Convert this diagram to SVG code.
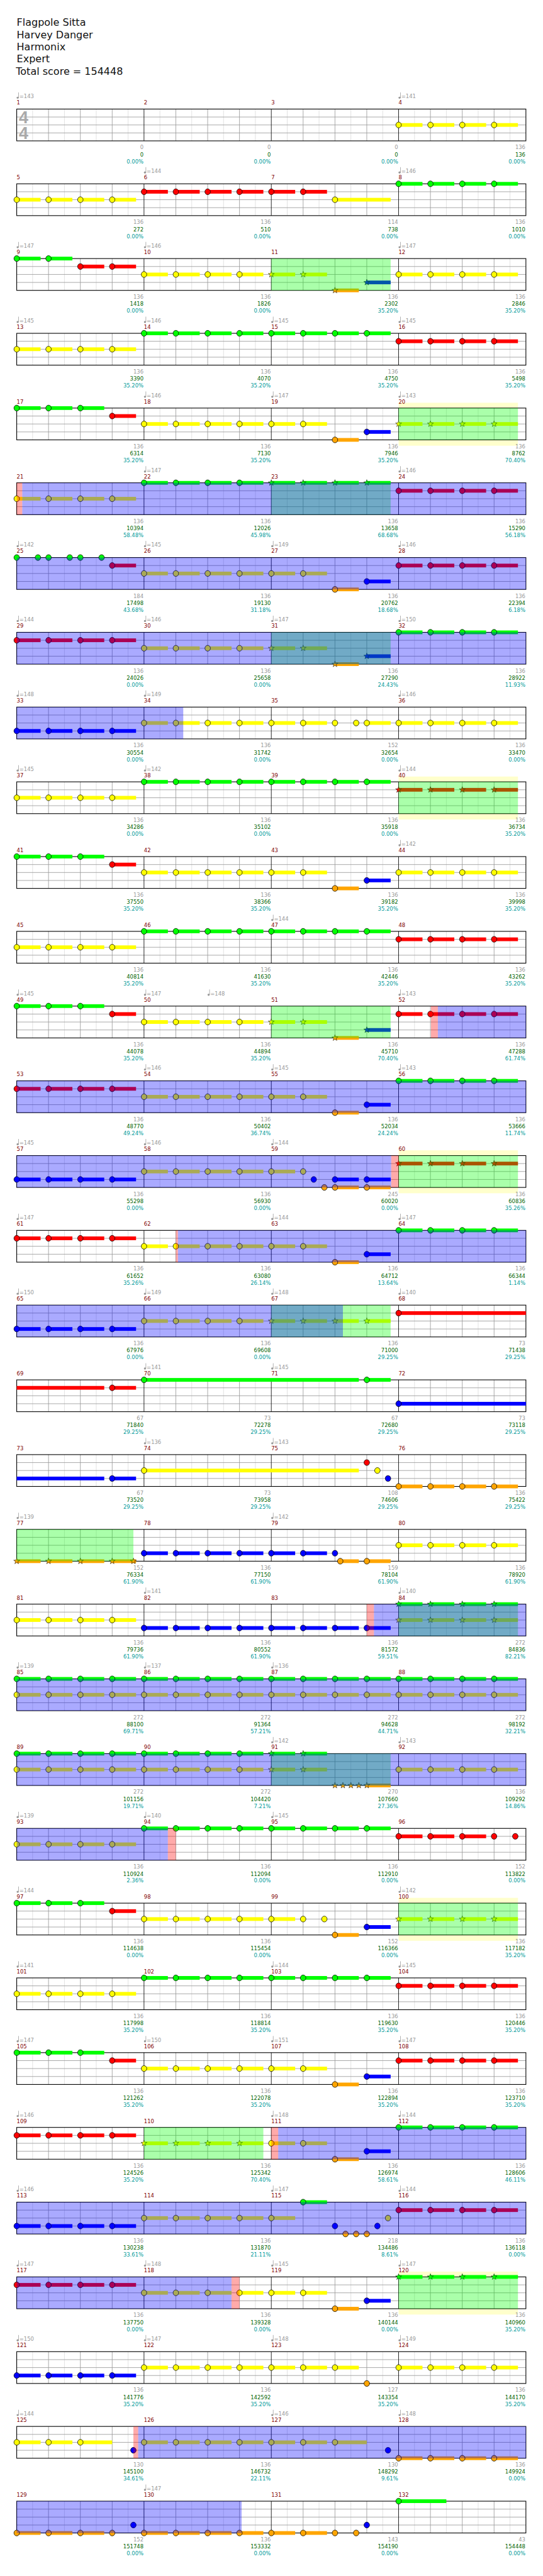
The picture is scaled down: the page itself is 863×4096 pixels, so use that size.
<svg xmlns="http://www.w3.org/2000/svg" width="863" height="4096" viewBox="0 0 863 4096">
<style>
text{font-family:"DejaVu Sans",Verdana,sans-serif;font-size:10px}
.hd{font-size:19px;fill:#111}
.mn{fill:#800000}
.tp{fill:#999}
.gs{fill:#999;text-anchor:end}
.sc{fill:#006400;text-anchor:end}
.pc{fill:#009a9a;text-anchor:end}
.g{fill:#00ff00}.r{fill:#ff0000}.y{fill:#ffff00}.b{fill:#0000ff}.o{fill:#ffa500}
.vg{fill:#00ff00;fill-opacity:.333}
.vb{fill:#0000ff;fill-opacity:.333}
.vr{fill:#ff0000;fill-opacity:.333}
.py{fill:#ffffcc}
.ts{font-family:"Liberation Sans",Arial,sans-serif;font-weight:bold;font-size:32px;fill:#aaa}
</style>
<defs>
<g id="grid">
<rect width="960" height="60" fill="#fff"/>
<path d="M30 0v60M90 0v60M150 0v60M210 0v60M270 0v60M330 0v60M390 0v60M450 0v60M510 0v60M570 0v60M630 0v60M690 0v60M750 0v60M810 0v60M870 0v60M930 0v60" stroke="#ddd" stroke-width="1" fill="none"/>
<path d="M60 0v60M120 0v60M180 0v60M300 0v60M360 0v60M420 0v60M540 0v60M600 0v60M660 0v60M780 0v60M840 0v60M900 0v60M0 15h960M0 30h960M0 45h960" stroke="#999" stroke-width="1" fill="none"/>
<path d="M240 0v60M480 0v60M720 0v60" stroke="#000" stroke-width="1" fill="none"/>
<rect width="960" height="60" fill="none" stroke="#000" stroke-width="1.3"/>
</g>
<ellipse id="h" rx="5.2" ry="5.5" stroke="#000" stroke-width="0.9"/>
<polygon id="st" points="0,-6 1.41,-1.94 5.71,-1.85 2.28,0.74 3.53,4.85 0,2.4 -3.53,4.85 -2.28,0.74 -5.71,-1.85 -1.41,-1.94" stroke="#000" stroke-width="0.6"/>
<g id="t"><rect y="-3.5" width="45" height="7"/><use href="#h"/></g>
<g id="t2"><use href="#t"/><use href="#t" x="60"/></g>
<g id="t3"><use href="#t2"/><use href="#t" x="120"/></g>
<g id="t4"><use href="#t2"/><use href="#t2" x="120"/></g>
<g id="t6"><use href="#t4"/><use href="#t2" x="240"/></g>
<g id="t8"><use href="#t4"/><use href="#t4" x="240"/></g>
<g id="s"><rect y="-3.5" width="45" height="7"/><use href="#st"/></g>
<g id="s2"><use href="#s"/><use href="#s" x="60"/></g>
<g id="s4"><use href="#s2"/><use href="#s2" x="120"/></g>
<g id="tq" fill="#999"><circle cx="1.8" cy="-21.4" r="2"/><rect x="3.1" y="-31.4" width="0.9" height="10"/></g>
</defs>
<rect width="863" height="4096" fill="#fff"/>
<g transform="scale(0.843)">
<g id="header">
<text class="hd" x="31.5" y="49">Flagpole Sitta</text>
<text class="hd" x="31.5" y="72">Harvey Danger</text>
<text class="hd" x="31.5" y="95">Harmonix</text>
<text class="hd" x="31.5" y="118">Expert</text>
<text class="hd" x="30" y="141">Total score = 154448</text>
</g>

<g id="row1" transform="translate(31.5 205.7)">
<use href="#grid"/>
<text class="ts" x="4" y="26.6">4</text><text class="ts" x="4" y="56.6">4</text>
<use href="#t4" x="720" y="30" class="y"/>
<use href="#tq"/><text class="tp" x="5" y="-20.4">=143</text>
<use href="#tq" x="720"/><text class="tp" x="725" y="-20.4">=141</text>
<text class="mn" y="-8.5"><tspan x="0">1</tspan><tspan x="240">2</tspan><tspan x="480">3</tspan><tspan x="720">4</tspan></text>
<text class="gs" y="76"><tspan x="239">0</tspan><tspan x="479">0</tspan><tspan x="719">0</tspan><tspan x="959">136</tspan></text>
<text class="sc" y="89.3"><tspan x="239">0</tspan><tspan x="479">0</tspan><tspan x="719">0</tspan><tspan x="959">136</tspan></text>
<text class="pc" y="102.3"><tspan x="239">0.00%</tspan><tspan x="479">0.00%</tspan><tspan x="719">0.00%</tspan><tspan x="959">0.00%</tspan></text>
</g>

<g id="row2" transform="translate(31.5 346.7)">
<use href="#grid"/>
<use href="#t4" y="30" class="y"/>
<use href="#t6" x="240" y="15" class="r"/>
<rect class="y" x="600" y="26.5" width="105" height="7"/><use href="#h" x="600" y="30" class="y"/>
<use href="#t4" x="720" class="g"/>
<use href="#tq" x="240"/><text class="tp" x="245" y="-20.4">=144</text>
<use href="#tq" x="720"/><text class="tp" x="725" y="-20.4">=146</text>
<text class="mn" y="-8.5"><tspan x="0">5</tspan><tspan x="240">6</tspan><tspan x="480">7</tspan><tspan x="720">8</tspan></text>
<text class="gs" y="76"><tspan x="239">136</tspan><tspan x="479">136</tspan><tspan x="719">114</tspan><tspan x="959">136</tspan></text>
<text class="sc" y="89.3"><tspan x="239">272</tspan><tspan x="479">510</tspan><tspan x="719">738</tspan><tspan x="959">1010</tspan></text>
<text class="pc" y="102.3"><tspan x="239">0.00%</tspan><tspan x="479">0.00%</tspan><tspan x="719">0.00%</tspan><tspan x="959">0.00%</tspan></text>
</g>

<g id="row3" transform="translate(31.5 487.7)">
<use href="#grid"/>
<use href="#t2" class="g"/>
<use href="#t2" x="120" y="15" class="r"/>
<use href="#t4" x="240" y="30" class="y"/>
<use href="#s2" x="480" y="30" class="y"/>
<use href="#s" x="600" y="60" class="o"/>
<use href="#s" x="660" y="45" class="b"/>
<use href="#t4" x="720" y="30" class="y"/>
<rect class="vg" x="480" width="225" height="60"/>
<use href="#tq"/><text class="tp" x="5" y="-20.4">=147</text>
<use href="#tq" x="240"/><text class="tp" x="245" y="-20.4">=146</text>
<use href="#tq" x="720"/><text class="tp" x="725" y="-20.4">=147</text>
<text class="mn" y="-8.5"><tspan x="0">9</tspan><tspan x="240">10</tspan><tspan x="480">11</tspan><tspan x="720">12</tspan></text>
<text class="gs" y="76"><tspan x="239">136</tspan><tspan x="479">136</tspan><tspan x="719">136</tspan><tspan x="959">136</tspan></text>
<text class="sc" y="89.3"><tspan x="239">1418</tspan><tspan x="479">1826</tspan><tspan x="719">2302</tspan><tspan x="959">2846</tspan></text>
<text class="pc" y="102.3"><tspan x="239">0.00%</tspan><tspan x="479">0.00%</tspan><tspan x="719">35.20%</tspan><tspan x="959">35.20%</tspan></text>
</g>

<g id="row4" transform="translate(31.5 628.7)">
<use href="#grid"/>
<use href="#t4" y="30" class="y"/>
<use href="#t8" x="240" class="g"/>
<use href="#t4" x="720" y="15" class="r"/>
<use href="#tq"/><text class="tp" x="5" y="-20.4">=145</text>
<use href="#tq" x="240"/><text class="tp" x="245" y="-20.4">=146</text>
<use href="#tq" x="480"/><text class="tp" x="485" y="-20.4">=145</text>
<use href="#tq" x="720"/><text class="tp" x="725" y="-20.4">=145</text>
<text class="mn" y="-8.5"><tspan x="0">13</tspan><tspan x="240">14</tspan><tspan x="480">15</tspan><tspan x="720">16</tspan></text>
<text class="gs" y="76"><tspan x="239">136</tspan><tspan x="479">136</tspan><tspan x="719">136</tspan><tspan x="959">136</tspan></text>
<text class="sc" y="89.3"><tspan x="239">3390</tspan><tspan x="479">4070</tspan><tspan x="719">4750</tspan><tspan x="959">5498</tspan></text>
<text class="pc" y="102.3"><tspan x="239">35.20%</tspan><tspan x="479">35.20%</tspan><tspan x="719">35.20%</tspan><tspan x="959">35.20%</tspan></text>
</g>

<g id="row5" transform="translate(31.5 769.7)">
<rect class="py" x="720" y="-10" width="225" height="81"/>
<use href="#grid"/>
<use href="#t3" class="g"/>
<use href="#t" x="180" y="15" class="r"/>
<use href="#t6" x="240" y="30" class="y"/>
<use href="#t" x="600" y="60" class="o"/>
<use href="#t" x="660" y="45" class="b"/>
<use href="#s4" x="720" y="30" class="y"/>
<rect class="vg" x="720" width="225" height="60"/>
<use href="#tq" x="240"/><text class="tp" x="245" y="-20.4">=146</text>
<use href="#tq" x="480"/><text class="tp" x="485" y="-20.4">=147</text>
<use href="#tq" x="720"/><text class="tp" x="725" y="-20.4">=143</text>
<text class="mn" y="-8.5"><tspan x="0">17</tspan><tspan x="240">18</tspan><tspan x="480">19</tspan><tspan x="720">20</tspan></text>
<text class="gs" y="76"><tspan x="239">136</tspan><tspan x="479">136</tspan><tspan x="719">136</tspan><tspan x="959">136</tspan></text>
<text class="sc" y="89.3"><tspan x="239">6314</tspan><tspan x="479">7130</tspan><tspan x="719">7946</tspan><tspan x="959">8762</tspan></text>
<text class="pc" y="102.3"><tspan x="239">35.20%</tspan><tspan x="479">35.20%</tspan><tspan x="719">35.20%</tspan><tspan x="959">70.40%</tspan></text>
</g>

<g id="row6" transform="translate(31.5 910.7)">
<use href="#grid"/>
<use href="#t4" y="30" class="y"/>
<use href="#t4" x="240" class="g"/>
<use href="#s4" x="480" class="g"/>
<use href="#t4" x="720" y="15" class="r"/>
<rect class="vg" x="480" width="225" height="60"/>
<rect class="vr" x="0" width="10.5" height="60"/>
<rect class="vb" x="10.5" width="949.5" height="60"/>
<use href="#tq" x="240"/><text class="tp" x="245" y="-20.4">=147</text>
<use href="#tq" x="720"/><text class="tp" x="725" y="-20.4">=146</text>
<text class="mn" y="-8.5"><tspan x="0">21</tspan><tspan x="240">22</tspan><tspan x="480">23</tspan><tspan x="720">24</tspan></text>
<text class="gs" y="76"><tspan x="239">136</tspan><tspan x="479">136</tspan><tspan x="719">136</tspan><tspan x="959">136</tspan></text>
<text class="sc" y="89.3"><tspan x="239">10394</tspan><tspan x="479">12026</tspan><tspan x="719">13658</tspan><tspan x="959">15290</tspan></text>
<text class="pc" y="102.3"><tspan x="239">58.48%</tspan><tspan x="479">45.98%</tspan><tspan x="719">68.68%</tspan><tspan x="959">56.18%</tspan></text>
</g>

<g id="row7" transform="translate(31.5 1051.7)">
<use href="#grid"/>
<use href="#h" x="0" class="g"/><use href="#h" x="40" class="g"/><use href="#h" x="60" class="g"/><use href="#h" x="100" class="g"/><use href="#h" x="120" class="g"/><use href="#h" x="160" class="g"/>
<use href="#t" x="180" y="15" class="r"/>
<use href="#t6" x="240" y="30" class="y"/>
<use href="#t" x="600" y="60" class="o"/>
<use href="#t" x="660" y="45" class="b"/>
<use href="#t4" x="720" y="15" class="r"/>
<rect class="vb" width="960" height="60"/>
<use href="#tq"/><text class="tp" x="5" y="-20.4">=142</text>
<use href="#tq" x="240"/><text class="tp" x="245" y="-20.4">=145</text>
<use href="#tq" x="480"/><text class="tp" x="485" y="-20.4">=149</text>
<use href="#tq" x="720"/><text class="tp" x="725" y="-20.4">=146</text>
<text class="mn" y="-8.5"><tspan x="0">25</tspan><tspan x="240">26</tspan><tspan x="480">27</tspan><tspan x="720">28</tspan></text>
<text class="gs" y="76"><tspan x="239">184</tspan><tspan x="479">136</tspan><tspan x="719">136</tspan><tspan x="959">136</tspan></text>
<text class="sc" y="89.3"><tspan x="239">17498</tspan><tspan x="479">19130</tspan><tspan x="719">20762</tspan><tspan x="959">22394</tspan></text>
<text class="pc" y="102.3"><tspan x="239">43.68%</tspan><tspan x="479">31.18%</tspan><tspan x="719">18.68%</tspan><tspan x="959">6.18%</tspan></text>
</g>

<g id="row8" transform="translate(31.5 1192.7)">
<use href="#grid"/>
<use href="#t4" y="15" class="r"/>
<use href="#t4" x="240" y="30" class="y"/>
<use href="#s2" x="480" y="30" class="y"/>
<use href="#s" x="600" y="60" class="o"/>
<use href="#s" x="660" y="45" class="b"/>
<use href="#t4" x="720" class="g"/>
<rect class="vg" x="480" width="225" height="60"/>
<rect class="vb" width="960" height="60"/>
<use href="#tq"/><text class="tp" x="5" y="-20.4">=144</text>
<use href="#tq" x="240"/><text class="tp" x="245" y="-20.4">=146</text>
<use href="#tq" x="480"/><text class="tp" x="485" y="-20.4">=147</text>
<use href="#tq" x="720"/><text class="tp" x="725" y="-20.4">=150</text>
<text class="mn" y="-8.5"><tspan x="0">29</tspan><tspan x="240">30</tspan><tspan x="480">31</tspan><tspan x="720">32</tspan></text>
<text class="gs" y="76"><tspan x="239">136</tspan><tspan x="479">136</tspan><tspan x="719">136</tspan><tspan x="959">136</tspan></text>
<text class="sc" y="89.3"><tspan x="239">24026</tspan><tspan x="479">25658</tspan><tspan x="719">27290</tspan><tspan x="959">28922</tspan></text>
<text class="pc" y="102.3"><tspan x="239">0.00%</tspan><tspan x="479">0.00%</tspan><tspan x="719">24.43%</tspan><tspan x="959">11.93%</tspan></text>
</g>

<g id="row9" transform="translate(31.5 1333.7)">
<use href="#grid"/>
<use href="#t4" y="45" class="b"/>
<use href="#t6" x="240" y="30" class="y"/>
<use href="#h" x="600" y="30" class="y"/>
<use href="#h" x="640" y="30" class="y"/>
<use href="#t" x="660" y="30" class="y"/>
<use href="#t4" x="720" y="30" class="y"/>
<rect class="vb" width="314" height="60"/>
<use href="#tq"/><text class="tp" x="5" y="-20.4">=148</text>
<use href="#tq" x="240"/><text class="tp" x="245" y="-20.4">=149</text>
<use href="#tq" x="720"/><text class="tp" x="725" y="-20.4">=146</text>
<text class="mn" y="-8.5"><tspan x="0">33</tspan><tspan x="240">34</tspan><tspan x="480">35</tspan><tspan x="720">36</tspan></text>
<text class="gs" y="76"><tspan x="239">136</tspan><tspan x="479">136</tspan><tspan x="719">152</tspan><tspan x="959">136</tspan></text>
<text class="sc" y="89.3"><tspan x="239">30554</tspan><tspan x="479">31742</tspan><tspan x="719">32654</tspan><tspan x="959">33470</tspan></text>
<text class="pc" y="102.3"><tspan x="239">0.00%</tspan><tspan x="479">0.00%</tspan><tspan x="719">0.00%</tspan><tspan x="959">0.00%</tspan></text>
</g>

<g id="row10" transform="translate(31.5 1474.7)">
<rect class="py" x="720" y="-10" width="225" height="81"/>
<use href="#grid"/>
<use href="#t4" y="30" class="y"/>
<use href="#t8" x="240" class="g"/>
<use href="#s4" x="720" y="15" class="r"/>
<rect class="vg" x="720" width="225" height="60"/>
<use href="#tq"/><text class="tp" x="5" y="-20.4">=145</text>
<use href="#tq" x="240"/><text class="tp" x="245" y="-20.4">=142</text>
<use href="#tq" x="720"/><text class="tp" x="725" y="-20.4">=144</text>
<text class="mn" y="-8.5"><tspan x="0">37</tspan><tspan x="240">38</tspan><tspan x="480">39</tspan><tspan x="720">40</tspan></text>
<text class="gs" y="76"><tspan x="239">136</tspan><tspan x="479">136</tspan><tspan x="719">136</tspan><tspan x="959">136</tspan></text>
<text class="sc" y="89.3"><tspan x="239">34286</tspan><tspan x="479">35102</tspan><tspan x="719">35918</tspan><tspan x="959">36734</tspan></text>
<text class="pc" y="102.3"><tspan x="239">0.00%</tspan><tspan x="479">0.00%</tspan><tspan x="719">0.00%</tspan><tspan x="959">35.20%</tspan></text>
</g>

<g id="row11" transform="translate(31.5 1615.7)">
<use href="#grid"/>
<use href="#t3" class="g"/>
<use href="#t" x="180" y="15" class="r"/>
<use href="#t6" x="240" y="30" class="y"/>
<use href="#t" x="600" y="60" class="o"/>
<use href="#t" x="660" y="45" class="b"/>
<use href="#t4" x="720" y="30" class="y"/>
<use href="#tq" x="720"/><text class="tp" x="725" y="-20.4">=142</text>
<text class="mn" y="-8.5"><tspan x="0">41</tspan><tspan x="240">42</tspan><tspan x="480">43</tspan><tspan x="720">44</tspan></text>
<text class="gs" y="76"><tspan x="239">136</tspan><tspan x="479">136</tspan><tspan x="719">136</tspan><tspan x="959">136</tspan></text>
<text class="sc" y="89.3"><tspan x="239">37550</tspan><tspan x="479">38366</tspan><tspan x="719">39182</tspan><tspan x="959">39998</tspan></text>
<text class="pc" y="102.3"><tspan x="239">35.20%</tspan><tspan x="479">35.20%</tspan><tspan x="719">35.20%</tspan><tspan x="959">35.20%</tspan></text>
</g>

<g id="row12" transform="translate(31.5 1756.7)">
<use href="#grid"/>
<use href="#t4" y="30" class="y"/>
<use href="#t8" x="240" class="g"/>
<use href="#t4" x="720" y="15" class="r"/>
<use href="#tq" x="480"/><text class="tp" x="485" y="-20.4">=144</text>
<text class="mn" y="-8.5"><tspan x="0">45</tspan><tspan x="240">46</tspan><tspan x="480">47</tspan><tspan x="720">48</tspan></text>
<text class="gs" y="76"><tspan x="239">136</tspan><tspan x="479">136</tspan><tspan x="719">136</tspan><tspan x="959">136</tspan></text>
<text class="sc" y="89.3"><tspan x="239">40814</tspan><tspan x="479">41630</tspan><tspan x="719">42446</tspan><tspan x="959">43262</tspan></text>
<text class="pc" y="102.3"><tspan x="239">35.20%</tspan><tspan x="479">35.20%</tspan><tspan x="719">35.20%</tspan><tspan x="959">35.20%</tspan></text>
</g>

<g id="row13" transform="translate(31.5 1897.7)">
<use href="#grid"/>
<use href="#t3" class="g"/>
<use href="#t" x="180" y="15" class="r"/>
<use href="#t4" x="240" y="30" class="y"/>
<use href="#s2" x="480" y="30" class="y"/>
<use href="#s" x="600" y="60" class="o"/>
<use href="#s" x="660" y="45" class="b"/>
<use href="#t4" x="720" y="15" class="r"/>
<rect class="vg" x="480" width="225" height="60"/>
<rect class="vr" x="781" width="13" height="60"/>
<rect class="vb" x="794" width="166" height="60"/>
<use href="#tq"/><text class="tp" x="5" y="-20.4">=145</text>
<use href="#tq" x="240"/><text class="tp" x="245" y="-20.4">=147</text>
<use href="#tq" x="360"/><text class="tp" x="365" y="-20.4">=148</text>
<use href="#tq" x="720"/><text class="tp" x="725" y="-20.4">=143</text>
<text class="mn" y="-8.5"><tspan x="0">49</tspan><tspan x="240">50</tspan><tspan x="480">51</tspan><tspan x="720">52</tspan></text>
<text class="gs" y="76"><tspan x="239">136</tspan><tspan x="479">136</tspan><tspan x="719">136</tspan><tspan x="959">136</tspan></text>
<text class="sc" y="89.3"><tspan x="239">44078</tspan><tspan x="479">44894</tspan><tspan x="719">45710</tspan><tspan x="959">47288</tspan></text>
<text class="pc" y="102.3"><tspan x="239">35.20%</tspan><tspan x="479">35.20%</tspan><tspan x="719">70.40%</tspan><tspan x="959">61.74%</tspan></text>
</g>

<g id="row14" transform="translate(31.5 2038.7)">
<use href="#grid"/>
<use href="#t4" y="15" class="r"/>
<use href="#t6" x="240" y="30" class="y"/>
<use href="#t" x="600" y="60" class="o"/>
<use href="#t" x="660" y="45" class="b"/>
<use href="#t4" x="720" class="g"/>
<rect class="vb" width="960" height="60"/>
<use href="#tq" x="240"/><text class="tp" x="245" y="-20.4">=146</text>
<use href="#tq" x="480"/><text class="tp" x="485" y="-20.4">=145</text>
<use href="#tq" x="720"/><text class="tp" x="725" y="-20.4">=143</text>
<text class="mn" y="-8.5"><tspan x="0">53</tspan><tspan x="240">54</tspan><tspan x="480">55</tspan><tspan x="720">56</tspan></text>
<text class="gs" y="76"><tspan x="239">136</tspan><tspan x="479">136</tspan><tspan x="719">136</tspan><tspan x="959">136</tspan></text>
<text class="sc" y="89.3"><tspan x="239">48770</tspan><tspan x="479">50402</tspan><tspan x="719">52034</tspan><tspan x="959">53666</tspan></text>
<text class="pc" y="102.3"><tspan x="239">49.24%</tspan><tspan x="479">36.74%</tspan><tspan x="719">24.24%</tspan><tspan x="959">11.74%</tspan></text>
</g>

<g id="row15" transform="translate(31.5 2179.7)">
<rect class="py" x="720" y="-10" width="225" height="81"/>
<use href="#grid"/>
<use href="#t4" y="45" class="b"/>
<use href="#t4" x="240" y="30" class="y"/>
<use href="#t" x="480" y="30" class="y"/>
<use href="#h" x="540" y="30" class="y"/>
<use href="#h" x="560" y="45" class="b"/>
<use href="#h" x="580" y="60" class="o"/>
<use href="#t" x="600" y="45" class="b"/>
<use href="#t" x="600" y="60" class="o"/>
<use href="#t" x="660" y="45" class="b"/>
<use href="#t" x="660" y="60" class="o"/>
<use href="#s4" x="720" y="15" class="r"/>
<rect class="vg" x="720" width="225" height="60"/>
<rect class="vb" width="706" height="60"/>
<rect class="vr" x="706" width="14" height="60"/>
<use href="#tq"/><text class="tp" x="5" y="-20.4">=145</text>
<use href="#tq" x="240"/><text class="tp" x="245" y="-20.4">=146</text>
<use href="#tq" x="480"/><text class="tp" x="485" y="-20.4">=144</text>
<text class="mn" y="-8.5"><tspan x="0">57</tspan><tspan x="240">58</tspan><tspan x="480">59</tspan><tspan x="720">60</tspan></text>
<text class="gs" y="76"><tspan x="239">136</tspan><tspan x="479">136</tspan><tspan x="719">245</tspan><tspan x="959">136</tspan></text>
<text class="sc" y="89.3"><tspan x="239">55298</tspan><tspan x="479">56930</tspan><tspan x="719">60020</tspan><tspan x="959">60836</tspan></text>
<text class="pc" y="102.3"><tspan x="239">0.00%</tspan><tspan x="479">0.00%</tspan><tspan x="719">0.00%</tspan><tspan x="959">35.26%</tspan></text>
</g>

<g id="row16" transform="translate(31.5 2320.7)">
<use href="#grid"/>
<use href="#t4" y="15" class="r"/>
<use href="#t6" x="240" y="30" class="y"/>
<use href="#t" x="600" y="60" class="o"/>
<use href="#t" x="660" y="45" class="b"/>
<use href="#t4" x="720" class="g"/>
<rect class="vr" x="300" width="4" height="60"/>
<rect class="vb" x="304" width="656" height="60"/>
<use href="#tq"/><text class="tp" x="5" y="-20.4">=147</text>
<use href="#tq" x="480"/><text class="tp" x="485" y="-20.4">=144</text>
<use href="#tq" x="720"/><text class="tp" x="725" y="-20.4">=147</text>
<text class="mn" y="-8.5"><tspan x="0">61</tspan><tspan x="240">62</tspan><tspan x="480">63</tspan><tspan x="720">64</tspan></text>
<text class="gs" y="76"><tspan x="239">136</tspan><tspan x="479">136</tspan><tspan x="719">136</tspan><tspan x="959">136</tspan></text>
<text class="sc" y="89.3"><tspan x="239">61652</tspan><tspan x="479">63080</tspan><tspan x="719">64712</tspan><tspan x="959">66344</tspan></text>
<text class="pc" y="102.3"><tspan x="239">35.26%</tspan><tspan x="479">26.14%</tspan><tspan x="719">13.64%</tspan><tspan x="959">1.14%</tspan></text>
</g>

<g id="row17" transform="translate(31.5 2461.7)">
<use href="#grid"/>
<use href="#t4" y="45" class="b"/>
<use href="#t4" x="240" y="30" class="y"/>
<use href="#s4" x="480" y="30" class="y"/>
<rect class="r" x="720" y="11.5" width="240" height="7"/><use href="#h" x="720" y="15" class="r"/>
<rect class="vg" x="480" width="225" height="60"/>
<rect class="vb" width="615" height="60"/>
<use href="#tq"/><text class="tp" x="5" y="-20.4">=150</text>
<use href="#tq" x="240"/><text class="tp" x="245" y="-20.4">=149</text>
<use href="#tq" x="480"/><text class="tp" x="485" y="-20.4">=148</text>
<use href="#tq" x="720"/><text class="tp" x="725" y="-20.4">=140</text>
<text class="mn" y="-8.5"><tspan x="0">65</tspan><tspan x="240">66</tspan><tspan x="480">67</tspan><tspan x="720">68</tspan></text>
<text class="gs" y="76"><tspan x="239">136</tspan><tspan x="479">136</tspan><tspan x="719">136</tspan><tspan x="959">73</tspan></text>
<text class="sc" y="89.3"><tspan x="239">67976</tspan><tspan x="479">69608</tspan><tspan x="719">71000</tspan><tspan x="959">71438</tspan></text>
<text class="pc" y="102.3"><tspan x="239">0.00%</tspan><tspan x="479">0.00%</tspan><tspan x="719">29.25%</tspan><tspan x="959">29.25%</tspan></text>
</g>

<g id="row18" transform="translate(31.5 2602.7)">
<use href="#grid"/>
<rect class="r" x="0" y="11.5" width="165" height="7"/>
<use href="#t" x="180" y="15" class="r"/>
<rect class="g" x="240" y="-3.5" width="405" height="7"/><use href="#h" x="240" class="g"/>
<use href="#t" x="660" class="g"/>
<rect class="b" x="720" y="41.5" width="240" height="7"/><use href="#h" x="720" y="45" class="b"/>
<use href="#tq" x="240"/><text class="tp" x="245" y="-20.4">=141</text>
<use href="#tq" x="480"/><text class="tp" x="485" y="-20.4">=145</text>
<text class="mn" y="-8.5"><tspan x="0">69</tspan><tspan x="240">70</tspan><tspan x="480">71</tspan><tspan x="720">72</tspan></text>
<text class="gs" y="76"><tspan x="239">67</tspan><tspan x="479">73</tspan><tspan x="719">67</tspan><tspan x="959">73</tspan></text>
<text class="sc" y="89.3"><tspan x="239">71840</tspan><tspan x="479">72278</tspan><tspan x="719">72680</tspan><tspan x="959">73118</tspan></text>
<text class="pc" y="102.3"><tspan x="239">29.25%</tspan><tspan x="479">29.25%</tspan><tspan x="719">29.25%</tspan><tspan x="959">29.25%</tspan></text>
</g>

<g id="row19" transform="translate(31.5 2743.7)">
<use href="#grid"/>
<rect class="b" x="0" y="41.5" width="165" height="7"/>
<use href="#t" x="180" y="45" class="b"/>
<rect class="y" x="240" y="26.5" width="405" height="7"/><use href="#h" x="240" y="30" class="y"/>
<use href="#h" x="660" y="15" class="r"/>
<use href="#h" x="680" y="30" class="y"/>
<use href="#h" x="700" y="45" class="b"/>
<use href="#t4" x="720" y="60" class="o"/>
<use href="#tq" x="240"/><text class="tp" x="245" y="-20.4">=136</text>
<use href="#tq" x="480"/><text class="tp" x="485" y="-20.4">=143</text>
<text class="mn" y="-8.5"><tspan x="0">73</tspan><tspan x="240">74</tspan><tspan x="480">75</tspan><tspan x="720">76</tspan></text>
<text class="gs" y="76"><tspan x="239">67</tspan><tspan x="479">73</tspan><tspan x="719">108</tspan><tspan x="959">136</tspan></text>
<text class="sc" y="89.3"><tspan x="239">73520</tspan><tspan x="479">73958</tspan><tspan x="719">74606</tspan><tspan x="959">75422</tspan></text>
<text class="pc" y="102.3"><tspan x="239">29.25%</tspan><tspan x="479">29.25%</tspan><tspan x="719">29.25%</tspan><tspan x="959">29.25%</tspan></text>
</g>

<g id="row20" transform="translate(31.5 2884.7)">
<use href="#grid"/>
<use href="#s4" y="60" class="o"/>
<use href="#st" x="220" y="60" class="o"/>
<use href="#t6" x="240" y="45" class="b"/>
<use href="#h" x="600" y="45" class="b"/>
<rect class="o" x="610" y="56.5" width="35" height="7"/><use href="#h" x="610" y="60" class="o"/>
<use href="#t" x="660" y="60" class="o"/>
<use href="#t4" x="720" y="30" class="y"/>
<rect class="vg" width="220" height="60"/>
<use href="#tq"/><text class="tp" x="5" y="-20.4">=139</text>
<use href="#tq" x="480"/><text class="tp" x="485" y="-20.4">=142</text>
<text class="mn" y="-8.5"><tspan x="0">77</tspan><tspan x="240">78</tspan><tspan x="480">79</tspan><tspan x="720">80</tspan></text>
<text class="gs" y="76"><tspan x="239">152</tspan><tspan x="479">136</tspan><tspan x="719">159</tspan><tspan x="959">136</tspan></text>
<text class="sc" y="89.3"><tspan x="239">76334</tspan><tspan x="479">77150</tspan><tspan x="719">78104</tspan><tspan x="959">78920</tspan></text>
<text class="pc" y="102.3"><tspan x="239">61.90%</tspan><tspan x="479">61.90%</tspan><tspan x="719">61.90%</tspan><tspan x="959">61.90%</tspan></text>
</g>

<g id="row21" transform="translate(31.5 3025.7)">
<use href="#grid"/>
<use href="#t4" y="30" class="y"/>
<use href="#t8" x="240" y="45" class="b"/>
<use href="#s4" x="720" class="g"/>
<use href="#s4" x="720" y="30" class="y"/>
<rect class="vg" x="720" width="225" height="60"/>
<rect class="vr" x="660" width="13.5" height="60"/>
<rect class="vb" x="673.5" width="286.5" height="60"/>
<use href="#tq" x="240"/><text class="tp" x="245" y="-20.4">=141</text>
<use href="#tq" x="720"/><text class="tp" x="725" y="-20.4">=140</text>
<text class="mn" y="-8.5"><tspan x="0">81</tspan><tspan x="240">82</tspan><tspan x="480">83</tspan><tspan x="720">84</tspan></text>
<text class="gs" y="76"><tspan x="239">136</tspan><tspan x="479">136</tspan><tspan x="719">136</tspan><tspan x="959">272</tspan></text>
<text class="sc" y="89.3"><tspan x="239">79736</tspan><tspan x="479">80552</tspan><tspan x="719">81572</tspan><tspan x="959">84836</tspan></text>
<text class="pc" y="102.3"><tspan x="239">61.90%</tspan><tspan x="479">61.90%</tspan><tspan x="719">59.51%</tspan><tspan x="959">82.21%</tspan></text>
</g>

<g id="row22" transform="translate(31.5 3166.7)">
<use href="#grid"/>
<use href="#t8" class="g"/>
<use href="#t8" x="480" class="g"/>
<use href="#t8" y="30" class="y"/>
<use href="#t8" x="480" y="30" class="y"/>
<rect class="vb" width="960" height="60"/>
<use href="#tq"/><text class="tp" x="5" y="-20.4">=139</text>
<use href="#tq" x="240"/><text class="tp" x="245" y="-20.4">=137</text>
<use href="#tq" x="480"/><text class="tp" x="485" y="-20.4">=136</text>
<text class="mn" y="-8.5"><tspan x="0">85</tspan><tspan x="240">86</tspan><tspan x="480">87</tspan><tspan x="720">88</tspan></text>
<text class="gs" y="76"><tspan x="239">272</tspan><tspan x="479">272</tspan><tspan x="719">272</tspan><tspan x="959">272</tspan></text>
<text class="sc" y="89.3"><tspan x="239">88100</tspan><tspan x="479">91364</tspan><tspan x="719">94628</tspan><tspan x="959">98192</tspan></text>
<text class="pc" y="102.3"><tspan x="239">69.71%</tspan><tspan x="479">57.21%</tspan><tspan x="719">44.71%</tspan><tspan x="959">32.21%</tspan></text>
</g>

<g id="row23" transform="translate(31.5 3307.7)">
<use href="#grid"/>
<use href="#t8" class="g"/>
<use href="#t8" y="30" class="y"/>
<use href="#s2" x="480" class="g"/>
<use href="#s2" x="480" y="30" class="y"/>
<use href="#st" x="600" y="60" class="o"/><use href="#st" x="615" y="60" class="o"/><use href="#st" x="630" y="60" class="o"/><use href="#st" x="645" y="60" class="o"/>
<use href="#s" x="660" y="60" class="o"/>
<use href="#t4" x="720" y="30" class="y"/>
<rect class="vg" x="480" width="225" height="60"/>
<rect class="vb" width="960" height="60"/>
<use href="#tq" x="480"/><text class="tp" x="485" y="-20.4">=142</text>
<use href="#tq" x="720"/><text class="tp" x="725" y="-20.4">=143</text>
<text class="mn" y="-8.5"><tspan x="0">89</tspan><tspan x="240">90</tspan><tspan x="480">91</tspan><tspan x="720">92</tspan></text>
<text class="gs" y="76"><tspan x="239">272</tspan><tspan x="479">272</tspan><tspan x="719">270</tspan><tspan x="959">136</tspan></text>
<text class="sc" y="89.3"><tspan x="239">101156</tspan><tspan x="479">104420</tspan><tspan x="719">107660</tspan><tspan x="959">109292</tspan></text>
<text class="pc" y="102.3"><tspan x="239">19.71%</tspan><tspan x="479">7.21%</tspan><tspan x="719">27.36%</tspan><tspan x="959">14.86%</tspan></text>
</g>

<g id="row24" transform="translate(31.5 3448.7)">
<use href="#grid"/>
<use href="#t4" y="30" class="y"/>
<use href="#t8" x="240" class="g"/>
<use href="#t3" x="720" y="15" class="r"/>
<use href="#h" x="900" y="15" class="r"/>
<use href="#h" x="940" y="15" class="r"/>
<rect class="vb" width="285" height="60"/>
<rect class="vr" x="285" width="15" height="60"/>
<use href="#tq"/><text class="tp" x="5" y="-20.4">=139</text>
<use href="#tq" x="240"/><text class="tp" x="245" y="-20.4">=140</text>
<use href="#tq" x="480"/><text class="tp" x="485" y="-20.4">=145</text>
<text class="mn" y="-8.5"><tspan x="0">93</tspan><tspan x="240">94</tspan><tspan x="480">95</tspan><tspan x="720">96</tspan></text>
<text class="gs" y="76"><tspan x="239">136</tspan><tspan x="479">136</tspan><tspan x="719">136</tspan><tspan x="959">152</tspan></text>
<text class="sc" y="89.3"><tspan x="239">110924</tspan><tspan x="479">112094</tspan><tspan x="719">112910</tspan><tspan x="959">113822</tspan></text>
<text class="pc" y="102.3"><tspan x="239">2.36%</tspan><tspan x="479">0.00%</tspan><tspan x="719">0.00%</tspan><tspan x="959">0.00%</tspan></text>
</g>

<g id="row25" transform="translate(31.5 3589.7)">
<rect class="py" x="720" y="-10" width="225" height="81"/>
<use href="#grid"/>
<use href="#t3" class="g"/>
<use href="#t" x="180" y="15" class="r"/>
<use href="#t4" x="240" y="30" class="y"/>
<use href="#t" x="480" y="30" class="y"/>
<use href="#h" x="540" y="30" class="y"/>
<use href="#h" x="580" y="30" class="y"/>
<use href="#t" x="600" y="60" class="o"/>
<use href="#t" x="660" y="45" class="b"/>
<use href="#s4" x="720" y="30" class="y"/>
<rect class="vg" x="720" width="225" height="60"/>
<use href="#tq"/><text class="tp" x="5" y="-20.4">=144</text>
<use href="#tq" x="720"/><text class="tp" x="725" y="-20.4">=142</text>
<text class="mn" y="-8.5"><tspan x="0">97</tspan><tspan x="240">98</tspan><tspan x="480">99</tspan><tspan x="720">100</tspan></text>
<text class="gs" y="76"><tspan x="239">136</tspan><tspan x="479">136</tspan><tspan x="719">152</tspan><tspan x="959">136</tspan></text>
<text class="sc" y="89.3"><tspan x="239">114638</tspan><tspan x="479">115454</tspan><tspan x="719">116366</tspan><tspan x="959">117182</tspan></text>
<text class="pc" y="102.3"><tspan x="239">0.00%</tspan><tspan x="479">0.00%</tspan><tspan x="719">0.00%</tspan><tspan x="959">35.20%</tspan></text>
</g>

<g id="row26" transform="translate(31.5 3730.7)">
<use href="#grid"/>
<use href="#t4" y="30" class="y"/>
<use href="#t8" x="240" class="g"/>
<use href="#t4" x="720" y="15" class="r"/>
<use href="#tq"/><text class="tp" x="5" y="-20.4">=141</text>
<use href="#tq" x="480"/><text class="tp" x="485" y="-20.4">=144</text>
<use href="#tq" x="720"/><text class="tp" x="725" y="-20.4">=145</text>
<text class="mn" y="-8.5"><tspan x="0">101</tspan><tspan x="240">102</tspan><tspan x="480">103</tspan><tspan x="720">104</tspan></text>
<text class="gs" y="76"><tspan x="239">136</tspan><tspan x="479">136</tspan><tspan x="719">136</tspan><tspan x="959">136</tspan></text>
<text class="sc" y="89.3"><tspan x="239">117998</tspan><tspan x="479">118814</tspan><tspan x="719">119630</tspan><tspan x="959">120446</tspan></text>
<text class="pc" y="102.3"><tspan x="239">35.20%</tspan><tspan x="479">35.20%</tspan><tspan x="719">35.20%</tspan><tspan x="959">35.20%</tspan></text>
</g>

<g id="row27" transform="translate(31.5 3871.7)">
<use href="#grid"/>
<use href="#t3" class="g"/>
<use href="#t" x="180" y="15" class="r"/>
<use href="#t6" x="240" y="30" class="y"/>
<use href="#t" x="600" y="60" class="o"/>
<use href="#t" x="660" y="45" class="b"/>
<use href="#t4" x="720" y="15" class="r"/>
<use href="#tq"/><text class="tp" x="5" y="-20.4">=147</text>
<use href="#tq" x="240"/><text class="tp" x="245" y="-20.4">=150</text>
<use href="#tq" x="480"/><text class="tp" x="485" y="-20.4">=151</text>
<use href="#tq" x="720"/><text class="tp" x="725" y="-20.4">=147</text>
<text class="mn" y="-8.5"><tspan x="0">105</tspan><tspan x="240">106</tspan><tspan x="480">107</tspan><tspan x="720">108</tspan></text>
<text class="gs" y="76"><tspan x="239">136</tspan><tspan x="479">136</tspan><tspan x="719">136</tspan><tspan x="959">136</tspan></text>
<text class="sc" y="89.3"><tspan x="239">121262</tspan><tspan x="479">122078</tspan><tspan x="719">122894</tspan><tspan x="959">123710</tspan></text>
<text class="pc" y="102.3"><tspan x="239">35.20%</tspan><tspan x="479">35.20%</tspan><tspan x="719">35.20%</tspan><tspan x="959">35.20%</tspan></text>
</g>

<g id="row28" transform="translate(31.5 4012.7)">
<use href="#grid"/>
<use href="#t4" y="15" class="r"/>
<use href="#s4" x="240" y="30" class="y"/>
<use href="#t2" x="480" y="30" class="y"/>
<use href="#t" x="600" y="60" class="o"/>
<use href="#t" x="660" y="45" class="b"/>
<use href="#t4" x="720" class="g"/>
<rect class="vg" x="240" width="225" height="60"/>
<rect class="vr" x="480" width="13" height="60"/>
<rect class="vb" x="493" width="467" height="60"/>
<use href="#tq"/><text class="tp" x="5" y="-20.4">=146</text>
<use href="#tq" x="480"/><text class="tp" x="485" y="-20.4">=148</text>
<use href="#tq" x="720"/><text class="tp" x="725" y="-20.4">=144</text>
<text class="mn" y="-8.5"><tspan x="0">109</tspan><tspan x="240">110</tspan><tspan x="480">111</tspan><tspan x="720">112</tspan></text>
<text class="gs" y="76"><tspan x="239">136</tspan><tspan x="479">136</tspan><tspan x="719">136</tspan><tspan x="959">136</tspan></text>
<text class="sc" y="89.3"><tspan x="239">124526</tspan><tspan x="479">125342</tspan><tspan x="719">126974</tspan><tspan x="959">128606</tspan></text>
<text class="pc" y="102.3"><tspan x="239">35.20%</tspan><tspan x="479">70.40%</tspan><tspan x="719">58.61%</tspan><tspan x="959">46.11%</tspan></text>
</g>

<g id="row29" transform="translate(31.5 4153.7)">
<use href="#grid"/>
<use href="#t4" y="45" class="b"/>
<use href="#t4" x="240" y="30" class="y"/>
<use href="#t" x="480" y="30" class="y"/>
<use href="#t" x="540" class="g"/>
<use href="#h" x="600" y="45" class="b"/>
<use href="#h" x="620" y="60" class="o"/>
<use href="#h" x="640" y="60" class="o"/>
<use href="#h" x="660" y="60" class="o"/>
<use href="#h" x="680" y="45" class="b"/>
<use href="#h" x="700" y="30" class="y"/>
<use href="#t4" x="720" y="15" class="r"/>
<rect class="vb" width="960" height="60"/>
<use href="#tq"/><text class="tp" x="5" y="-20.4">=146</text>
<use href="#tq" x="480"/><text class="tp" x="485" y="-20.4">=147</text>
<use href="#tq" x="720"/><text class="tp" x="725" y="-20.4">=144</text>
<text class="mn" y="-8.5"><tspan x="0">113</tspan><tspan x="240">114</tspan><tspan x="480">115</tspan><tspan x="720">116</tspan></text>
<text class="gs" y="76"><tspan x="239">136</tspan><tspan x="479">136</tspan><tspan x="719">218</tspan><tspan x="959">136</tspan></text>
<text class="sc" y="89.3"><tspan x="239">130238</tspan><tspan x="479">131870</tspan><tspan x="719">134486</tspan><tspan x="959">136118</tspan></text>
<text class="pc" y="102.3"><tspan x="239">33.61%</tspan><tspan x="479">21.11%</tspan><tspan x="719">8.61%</tspan><tspan x="959">0.00%</tspan></text>
</g>

<g id="row30" transform="translate(31.5 4294.7)">
<rect class="py" x="720" y="-10" width="225" height="81"/>
<use href="#grid"/>
<use href="#t4" y="15" class="r"/>
<use href="#t6" x="240" y="30" class="y"/>
<use href="#t" x="600" y="60" class="o"/>
<use href="#t" x="660" y="45" class="b"/>
<use href="#s4" x="720" class="g"/>
<rect class="vg" x="720" width="225" height="60"/>
<rect class="vb" width="405" height="60"/>
<rect class="vr" x="405" width="15" height="60"/>
<use href="#tq"/><text class="tp" x="5" y="-20.4">=147</text>
<use href="#tq" x="240"/><text class="tp" x="245" y="-20.4">=148</text>
<use href="#tq" x="480"/><text class="tp" x="485" y="-20.4">=145</text>
<use href="#tq" x="720"/><text class="tp" x="725" y="-20.4">=147</text>
<text class="mn" y="-8.5"><tspan x="0">117</tspan><tspan x="240">118</tspan><tspan x="480">119</tspan><tspan x="720">120</tspan></text>
<text class="gs" y="76"><tspan x="239">136</tspan><tspan x="479">136</tspan><tspan x="719">136</tspan><tspan x="959">136</tspan></text>
<text class="sc" y="89.3"><tspan x="239">137750</tspan><tspan x="479">139328</tspan><tspan x="719">140144</tspan><tspan x="959">140960</tspan></text>
<text class="pc" y="102.3"><tspan x="239">0.00%</tspan><tspan x="479">0.00%</tspan><tspan x="719">0.00%</tspan><tspan x="959">35.20%</tspan></text>
</g>

<g id="row31" transform="translate(31.5 4435.7)">
<use href="#grid"/>
<use href="#t4" y="45" class="b"/>
<use href="#t6" x="240" y="30" class="y"/>
<use href="#t" x="600" y="30" class="y"/>
<use href="#h" x="660" y="60" class="o"/>
<use href="#t4" x="720" y="30" class="y"/>
<use href="#tq"/><text class="tp" x="5" y="-20.4">=150</text>
<use href="#tq" x="240"/><text class="tp" x="245" y="-20.4">=147</text>
<use href="#tq" x="480"/><text class="tp" x="485" y="-20.4">=148</text>
<use href="#tq" x="720"/><text class="tp" x="725" y="-20.4">=149</text>
<text class="mn" y="-8.5"><tspan x="0">121</tspan><tspan x="240">122</tspan><tspan x="480">123</tspan><tspan x="720">124</tspan></text>
<text class="gs" y="76"><tspan x="239">136</tspan><tspan x="479">136</tspan><tspan x="719">127</tspan><tspan x="959">136</tspan></text>
<text class="sc" y="89.3"><tspan x="239">141776</tspan><tspan x="479">142592</tspan><tspan x="719">143354</tspan><tspan x="959">144170</tspan></text>
<text class="pc" y="102.3"><tspan x="239">35.20%</tspan><tspan x="479">35.20%</tspan><tspan x="719">35.20%</tspan><tspan x="959">35.20%</tspan></text>
</g>

<g id="row32" transform="translate(31.5 4576.7)">
<use href="#grid"/>
<use href="#t2" y="30" class="y"/>
<rect class="y" x="120" y="26.5" width="60" height="7"/><use href="#h" x="120" y="30" class="y"/>
<use href="#h" x="220" y="45" class="b"/>
<use href="#t6" x="240" y="30" class="y"/>
<rect class="y" x="600" y="26.5" width="60" height="7"/><use href="#h" x="600" y="30" class="y"/>
<use href="#h" x="700" y="45" class="b"/>
<use href="#t4" x="720" y="60" class="o"/>
<rect class="vr" x="220" width="9" height="60"/>
<rect class="vb" x="229" width="731" height="60"/>
<use href="#tq"/><text class="tp" x="5" y="-20.4">=144</text>
<use href="#tq" x="480"/><text class="tp" x="485" y="-20.4">=146</text>
<use href="#tq" x="720"/><text class="tp" x="725" y="-20.4">=148</text>
<text class="mn" y="-8.5"><tspan x="0">125</tspan><tspan x="240">126</tspan><tspan x="480">127</tspan><tspan x="720">128</tspan></text>
<text class="gs" y="76"><tspan x="239">130</tspan><tspan x="479">136</tspan><tspan x="719">130</tspan><tspan x="959">136</tspan></text>
<text class="sc" y="89.3"><tspan x="239">145100</tspan><tspan x="479">146732</tspan><tspan x="719">148292</tspan><tspan x="959">149924</tspan></text>
<text class="pc" y="102.3"><tspan x="239">34.61%</tspan><tspan x="479">22.11%</tspan><tspan x="719">9.61%</tspan><tspan x="959">0.00%</tspan></text>
</g>

<g id="row33" transform="translate(31.5 4717.7)">
<use href="#grid"/>
<use href="#t3" y="60" class="o"/>
<use href="#h" x="180" y="60" class="o"/>
<use href="#h" x="220" y="45" class="b"/>
<use href="#t4" x="240" y="60" class="o"/>
<use href="#t2" x="480" y="60" class="o"/>
<use href="#h" x="600" y="60" class="o"/>
<use href="#h" x="640" y="60" class="o"/>
<use href="#h" x="660" y="45" class="b"/>
<rect class="g" x="720" y="-3.5" width="90" height="7"/><use href="#h" x="720" class="g"/>
<rect class="vb" width="424" height="60"/>
<use href="#tq" x="240"/><text class="tp" x="245" y="-20.4">=147</text>
<text class="mn" y="-8.5"><tspan x="0">129</tspan><tspan x="240">130</tspan><tspan x="480">131</tspan><tspan x="720">132</tspan></text>
<text class="gs" y="76"><tspan x="239">152</tspan><tspan x="479">136</tspan><tspan x="719">143</tspan><tspan x="959">43</tspan></text>
<text class="sc" y="89.3"><tspan x="239">151748</tspan><tspan x="479">153332</tspan><tspan x="719">154190</tspan><tspan x="959">154448</tspan></text>
<text class="pc" y="102.3"><tspan x="239">0.00%</tspan><tspan x="479">0.00%</tspan><tspan x="719">0.00%</tspan><tspan x="959">0.00%</tspan></text>
</g>
</g>
</svg>
